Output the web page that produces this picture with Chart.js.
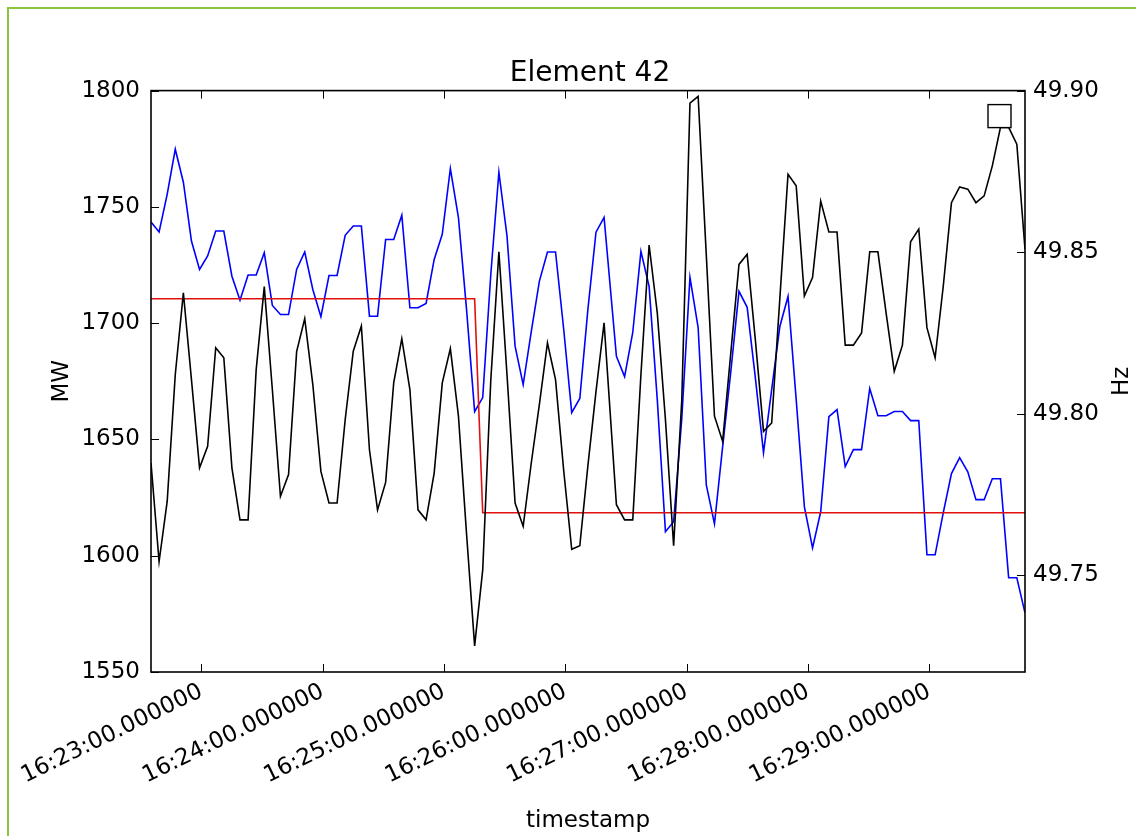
<!DOCTYPE html>
<html>
<head>
<meta charset="utf-8">
<script src="https://cdn.jsdelivr.net/npm/chart.js@4"></script>
<style>
  html, body { margin: 0; padding: 0; background: #fff; }
  #wrap { position: relative; width: 1136px; height: 836px; overflow: hidden; background: #fff; }
  #chart { position: absolute; left: 0; top: 0; }
  #edge { position: absolute; left: 7px; top: 7px; right: -10px; bottom: -10px;
          border-left: 2px solid #8cc63f; border-top: 2px solid #8cc63f; pointer-events: none; }
</style>
</head>
<body>
<div id="wrap">
  <canvas id="chart" width="1136" height="836"></canvas>
  <div id="edge"></div>
</div>
<script>
// power (MW, left axis), one sample every ~4 s
const blueMW = [
  1743.5, 1739.2, 1755.4, 1774.8, 1760.6, 1735.3, 1723.1, 1728.9, 1739.6, 1739.6,
  1720.2, 1709.9, 1720.7, 1720.7, 1730.3, 1707.6, 1703.7, 1703.7, 1723.1, 1730.6,
  1714.5, 1702.8, 1720.5, 1720.5, 1737.8, 1741.8, 1741.8, 1703.0, 1703.0, 1736.0,
  1736.0, 1746.4, 1706.6, 1706.6, 1708.5, 1727.4, 1738.2, 1766.5, 1745.4, 1705.9,
  1662.0, 1668.0, 1721.0, 1764.9, 1737.5, 1690.1, 1673.6, 1696.4, 1718.0, 1730.6,
  1730.6, 1697.7, 1661.5, 1667.6, 1705.9, 1739.1, 1745.5, 1685.7, 1677.0, 1696.0,
  1730.9, 1715.8, 1667.1, 1610.3, 1614.6, 1659.0, 1719.7, 1698.1, 1630.5, 1613.7,
  1646.9, 1679.2, 1713.7, 1706.8, 1676.6, 1644.3, 1671.4, 1698.6, 1711.5, 1667.1,
  1621.1, 1603.4, 1618.9, 1659.8, 1662.8, 1638.3, 1645.6, 1645.6, 1671.9, 1660.2,
  1660.2, 1662.0, 1662.0, 1658.1, 1658.1, 1600.4, 1600.4, 1618.5, 1635.3, 1642.2,
  1636.1, 1624.1, 1624.1, 1633.1, 1633.1, 1590.5, 1590.5, 1575.4
];

// frequency (Hz, right axis)
const blackHz = [
  49.7847, 49.7542, 49.7728, 49.8121, 49.8374, 49.8105, 49.7832, 49.7899, 49.8204, 49.8173,
  49.7832, 49.7671, 49.7671, 49.8136, 49.8393, 49.8074, 49.7744, 49.7811, 49.8192, 49.8294,
  49.8090, 49.7821, 49.7723, 49.7723, 49.7981, 49.8193, 49.8271, 49.7888, 49.7702, 49.7787,
  49.8096, 49.8232, 49.8074, 49.7702, 49.7671, 49.7816, 49.8095, 49.8201, 49.7992, 49.7628,
  49.7281, 49.7516, 49.8105, 49.8501, 49.8121, 49.7723, 49.7651, 49.7847, 49.8028, 49.8219,
  49.8105, 49.7826, 49.7580, 49.7591, 49.7839, 49.8068, 49.8281, 49.7718, 49.7671, 49.7671,
  49.8121, 49.8522, 49.8312, 49.7981, 49.7591, 49.8043, 49.8961, 49.8982, 49.8490, 49.7992,
  49.7914, 49.8189, 49.8462, 49.8493, 49.8229, 49.7945, 49.7971, 49.8357, 49.8741, 49.8705,
  49.8364, 49.8421, 49.8658, 49.8562, 49.8562, 49.8212, 49.8212, 49.8250, 49.8501, 49.8501,
  49.8312, 49.8131, 49.8212, 49.8532, 49.8571, 49.8266, 49.8173, 49.8395, 49.8653, 49.8702,
  49.8695, 49.8653, 49.8674, 49.8767, 49.8886, 49.8886, 49.8834, 49.8509
];

// setpoint (MW): value at the given sample indices
const redMW = [1710.5, 1710.5, 1618.5, 1618.5];
const redAt = [0, 40, 41, 107];

const mwTicks = [1550, 1600, 1650, 1700, 1750, 1800];
const hzTicks = [49.75, 49.80, 49.85, 49.90];
const xTickLabels = [
  '16:23:00.000000', '16:24:00.000000', '16:25:00.000000', '16:26:00.000000',
  '16:27:00.000000', '16:28:00.000000', '16:29:00.000000'
];

// sample timestamps (seconds of day); one longer gap after sample 56
const startTime = '16:22:35.2';
const stepSec = 4.0;
const lateStepSec = 4.04;
const gapAfter = 56;
const gapSec = 6.1;

function toSec(s) {
  const p = s.split(':').map(Number);
  return p[0] * 3600 + p[1] * 60 + p[2];
}

const times = [toSec(startTime)];
for (let i = 1; i < blueMW.length; i++) {
  let step = i <= gapAfter ? stepSec : lateStepSec;
  if (i === gapAfter + 1) step = gapSec;
  times.push(times[i - 1] + step);
}

const FONT = "'DejaVu Sans', sans-serif";

const framePlugin = {
  id: 'frame',
  afterDraw(chart) {
    const { ctx, chartArea: a, scales } = chart;
    const len = 8;
    ctx.save();
    ctx.strokeStyle = '#000';
    ctx.lineWidth = 1;
    ctx.beginPath();
    scales.x.ticks.forEach(t => {
      const px = Math.round(scales.x.getPixelForValue(t.value)) + 0.5;
      ctx.moveTo(px, a.bottom); ctx.lineTo(px, a.bottom - len);
      ctx.moveTo(px, a.top); ctx.lineTo(px, a.top + len);
    });
    scales.y.ticks.forEach(t => {
      const py = Math.round(scales.y.getPixelForValue(t.value)) + 0.5;
      ctx.moveTo(a.left, py); ctx.lineTo(a.left + len, py);
    });
    scales.y1.ticks.forEach(t => {
      const py = Math.round(scales.y1.getPixelForValue(t.value)) + 0.5;
      ctx.moveTo(a.right, py); ctx.lineTo(a.right - len, py);
    });
    ctx.stroke();

    ctx.lineWidth = 1.6;
    ctx.strokeRect(a.left, a.top, a.right - a.left, a.bottom - a.top);

    // empty legend box
    ctx.fillStyle = '#fff';
    ctx.lineWidth = 1.4;
    ctx.fillRect(a.right - 37, a.top + 14, 23, 23);
    ctx.strokeRect(a.right - 37, a.top + 14, 23, 23);

    // right axis label, reads bottom to top
    ctx.fillStyle = '#000';
    ctx.font = '23px ' + FONT;
    ctx.textAlign = 'center';
    ctx.textBaseline = 'middle';
    ctx.translate(1122, (a.top + a.bottom) / 2);
    ctx.rotate(-Math.PI / 2);
    ctx.fillText('Hz', 0, 0);
    ctx.restore();
  }
};

new Chart(document.getElementById('chart'), {
  type: 'line',
  data: {
    datasets: [
      {
        label: 'Hz',
        data: blackHz.map((v, i) => ({ x: times[i], y: v })),
        yAxisID: 'y1',
        borderColor: '#000000'
      },
      {
        label: 'setpoint',
        data: redAt.map((k, j) => ({ x: times[k], y: redMW[j] })),
        yAxisID: 'y',
        borderColor: '#e01010'
      },
      {
        label: 'MW',
        data: blueMW.map((v, i) => ({ x: times[i], y: v })),
        yAxisID: 'y',
        borderColor: '#0000ff'
      }
    ]
  },
  options: {
    responsive: false,
    animation: false,
    devicePixelRatio: 1,
    layout: { padding: { left: 44, right: 0, top: 0, bottom: 0 } },
    elements: {
      point: { radius: 0 },
      line: { tension: 0, borderWidth: 1.6, fill: false }
    },
    plugins: {
      legend: { display: false },
      tooltip: { enabled: false },
      title: {
        display: true,
        text: 'Element 42',
        color: '#000',
        font: { family: FONT, size: 28, weight: 'normal' },
        padding: { top: 57, bottom: 0 }
      }
    },
    scales: {
      x: {
        type: 'linear',
        min: times[0],
        max: times[times.length - 1],
        grid: { display: false, drawTicks: false },
        border: { display: false },
        afterBuildTicks: s => { s.ticks = xTickLabels.map(l => ({ value: toSec(l) })); },
        afterFit: s => { s.height = 164; },
        ticks: {
          autoSkip: false,
          minRotation: 26,
          maxRotation: 26,
          padding: 6,
          color: '#000',
          font: { family: FONT, size: 23 },
          callback: (v, i) => xTickLabels[i]
        },
        title: {
          display: true,
          text: 'timestamp',
          color: '#000',
          font: { family: FONT, size: 23 },
          padding: { top: 0, bottom: 1 }
        }
      },
      y: {
        position: 'left',
        min: 1550,
        max: 1800,
        grid: { display: false, drawTicks: false },
        border: { display: false },
        afterBuildTicks: s => { s.ticks = mwTicks.map(v => ({ value: v })); },
        afterFit: s => { s.width = 107; },
        ticks: {
          autoSkip: false,
          padding: 11,
          color: '#000',
          font: { family: FONT, size: 23 },
          callback: v => String(v)
        },
        title: {
          display: true,
          text: 'MW',
          color: '#000',
          font: { family: FONT, size: 23 },
          padding: { top: 4, bottom: 0 }
        }
      },
      y1: {
        position: 'right',
        min: 49.72,
        max: 49.90,
        grid: { display: false, drawTicks: false },
        border: { display: false },
        afterBuildTicks: s => { s.ticks = hzTicks.map(v => ({ value: v })); },
        afterFit: s => { s.width = 111; },
        ticks: {
          autoSkip: false,
          padding: 8,
          color: '#000',
          font: { family: FONT, size: 23 },
          callback: v => v.toFixed(2)
        }
      }
    }
  },
  plugins: [framePlugin]
});
</script>
</body>
</html>
